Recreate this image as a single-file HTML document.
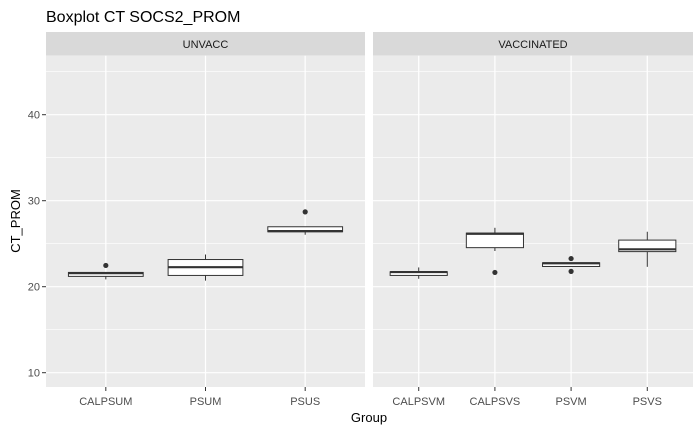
<!DOCTYPE html>
<html><head><meta charset="utf-8"><style>
body{margin:0;background:#fff;}
svg{display:block;font-family:"Liberation Sans",Arial,sans-serif;}
</style></head><body>
<svg id="chart" width="700" height="432">
<rect width="700" height="432" fill="#fff"/>
<text x="46" y="22" font-size="16" fill="#000">Boxplot CT SOCS2_PROM</text>
<text transform="translate(20,221) rotate(-90)" text-anchor="middle" font-size="13" fill="#000">CT_PROM</text>
<text x="369" y="422" text-anchor="middle" font-size="13" fill="#000">Group</text>
<g id="g"></g>
</svg>
<script>
const panels = ["UNVACC","VACCINATED"];
const unvaccCats = ["CALPSUM","PSUM","PSUS"];
const vaccCats = ["CALPSVM","CALPSVS","PSVM","PSVS"];
// [whiskerLow, q1, median, q3, whiskerHigh]
const unvaccStats = [[20.85,21.2,21.58,21.66,21.66],[20.7,21.31,22.27,23.16,23.74],[26.04,26.39,26.46,26.97,26.97]];
const vaccStats = [[20.92,21.31,21.7,21.73,22.24],[24.15,24.54,26.16,26.23,26.85],[22.35,22.35,22.73,22.77,22.77],[22.31,24.08,24.35,25.42,26.39]];
const unvaccOutliers = [[22.47],[],[28.7]];
const vaccOutliers = [[],[21.66],[23.27,21.78],[]];
const yTicks = [10,20,30,40];
const yMinor = [15,25,35,45];

const NS="http://www.w3.org/2000/svg";
const g=document.getElementById('g');
function mk(t,a,p){const e=document.createElementNS(NS,t);for(const k in a)e.setAttribute(k,a[k]);(p||g).appendChild(e);return e;}
const plotTop=55.6,plotBot=387;
function y(v){return 286.7-(v-20)*8.6;}
const panelX=[[46,365],[373,693]];
const cats=[unvaccCats,vaccCats], stats=[unvaccStats,vaccStats], outs=[unvaccOutliers,vaccOutliers];
panels.forEach((p,pi)=>{
  const [x0,x1]=panelX[pi]; const n=cats[pi].length; const step=(x1-x0)/(n+0.2);
  const xc=i=>x0+step*(0.6+i);
  const strip=mk('rect',{x:x0,y:32,width:x1-x0,height:23.6,fill:'#d9d9d9'});
  
  
  const st=mk('text',{x:(x0+x1)/2,y:48,'text-anchor':'middle','font-size':'11',fill:'#1a1a1a'});st.textContent=p;
  
  
  const bg=mk('rect',{x:x0,y:plotTop,width:x1-x0,height:plotBot-plotTop,fill:'#ebebeb'});
  
  
  yMinor.forEach(v=>mk('line',{x1:x0,x2:x1,y1:y(v),y2:y(v),stroke:'#fff','stroke-width':0.6}));
  yTicks.forEach(v=>mk('line',{x1:x0,x2:x1,y1:y(v),y2:y(v),stroke:'#fff','stroke-width':1.2}));
  cats[pi].forEach((c,i)=>{
    const x=xc(i);
    mk('line',{x1:x,x2:x,y1:plotTop,y2:plotBot,stroke:'#fff','stroke-width':1.2});
    mk('line',{x1:x,x2:x,y1:plotBot,y2:plotBot+4,stroke:'#333','stroke-width':1});
    const t=mk('text',{x:x,y:405,'text-anchor':'middle','font-size':'11',fill:'#4d4d4d'});t.textContent=c;
    
    
  });
  cats[pi].forEach((c,i)=>{
    const x=xc(i), s=stats[pi][i], w=step*0.75;
    const bx=mk('g',{});
    
    
    mk('line',{x1:x,x2:x,y1:y(s[0]),y2:y(s[1]),stroke:'#333','stroke-width':1},bx);
    mk('line',{x1:x,x2:x,y1:y(s[3]),y2:y(s[4]),stroke:'#333','stroke-width':1},bx);
    mk('rect',{x:x-w/2,y:y(s[3]),width:w,height:Math.max(y(s[1])-y(s[3]),0.5),fill:'#fff',stroke:'#333','stroke-width':1},bx);
    mk('line',{x1:x-w/2,x2:x+w/2,y1:y(s[2]),y2:y(s[2]),stroke:'#333','stroke-width':2.2},bx);
    outs[pi][i].forEach(v=>{
      const o=mk('circle',{cx:x,cy:y(v),r:2.6,fill:'#333'},bx);
      
      
    });
  });
});
yTicks.forEach(v=>{
  mk('line',{x1:42,x2:46,y1:y(v),y2:y(v),stroke:'#333','stroke-width':1});
  const t=mk('text',{x:40,y:y(v)+4,'text-anchor':'end','font-size':'11',fill:'#4d4d4d'});t.textContent=v;
  
  
});
</script>
</body></html>
